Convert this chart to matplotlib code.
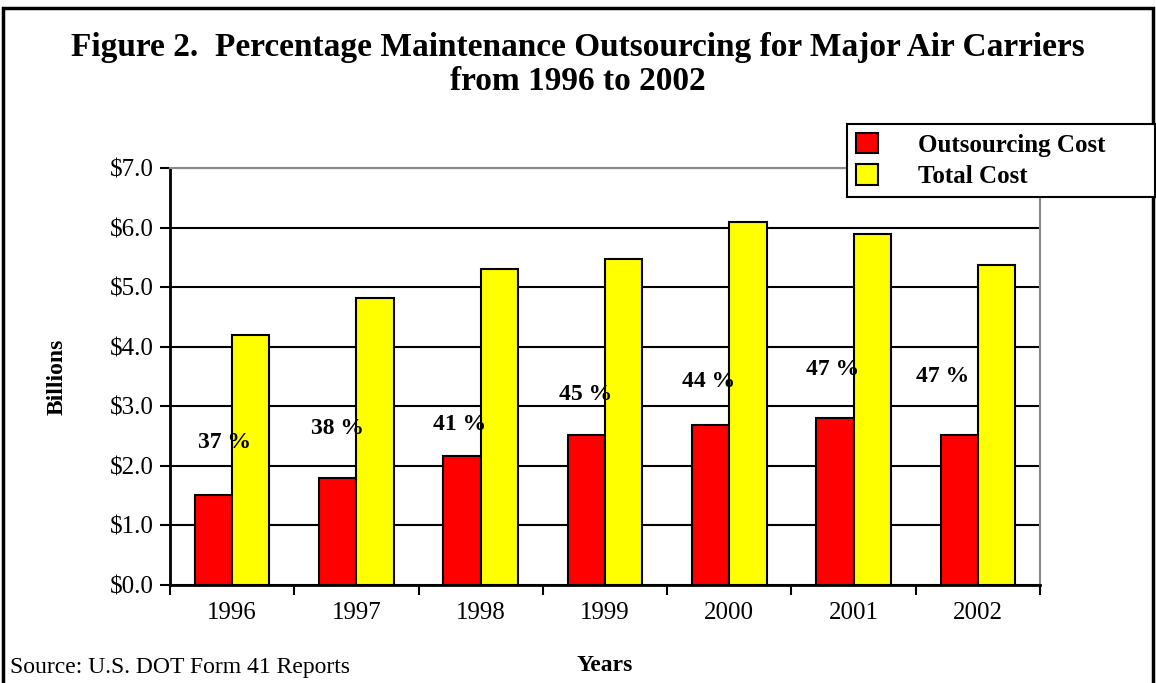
import numpy as np
import matplotlib.pyplot as plt
from matplotlib.patches import Rectangle

plt.rcParams['font.family'] = ['Liberation Serif', 'DejaVu Serif']

years = ['1996', '1997', '1998', '1999', '2000', '2001', '2002']
outsourcing = [1.51, 1.79, 2.17, 2.52, 2.69, 2.80, 2.52]
total = [4.19, 4.82, 5.30, 5.48, 6.10, 5.89, 5.37]
pct_labels = ['37 %', '38 %', '41 %', '45 %', '44 %', '47 %', '47 %']
pct_y = [2.40, 2.62, 2.70, 3.20, 3.42, 3.62, 3.50]
pct_dx = [-0.06, -0.15, -0.17, -0.16, -0.17, -0.17, -0.28]

fig = plt.figure(figsize=(11.56, 6.83), dpi=100)
ax = fig.add_axes([0.1471, 0.1435, 0.7526, 0.6105])

x = np.arange(len(years))
w = 0.3
ax.bar(x - w / 2, outsourcing, w, color='#ff0000', edgecolor='black', linewidth=1.5,
       label='Outsourcing Cost', zorder=3)
ax.bar(x + w / 2, total, w, color='#ffff00', edgecolor='black', linewidth=1.5,
       label='Total Cost', zorder=3)

for i, (lab, yy) in enumerate(zip(pct_labels, pct_y)):
    ax.text(x[i] + pct_dx[i], yy, lab, ha='center', va='center', fontsize=17,
            fontweight='bold', zorder=4)

ax.set_xlim(-0.5, len(years) - 0.5)
ax.set_ylim(0, 7)
ax.set_yticks(np.arange(0, 7.01, 1.0))
ax.set_yticklabels(['$%.1f' % v for v in np.arange(0, 7.01, 1.0)], fontsize=18)
ax.yaxis.grid(True, color='black', linewidth=1.5, zorder=0)
ax.set_axisbelow(True)

ax.set_xticks(x)
ax.set_xticklabels(years, fontsize=18)
ax.set_xticks(np.arange(-0.5, len(years)), minor=True)
ax.tick_params(axis='x', which='major', length=0, pad=12)
ax.tick_params(axis='x', which='minor', length=7, width=1.5, direction='out')
ax.tick_params(axis='y', length=7, width=1.5, direction='out', pad=5)

for s in ['left', 'bottom']:
    ax.spines[s].set_linewidth(2)
    ax.spines[s].set_color('black')
for s in ['top', 'right']:
    ax.spines[s].set_linewidth(1.5)
    ax.spines[s].set_color('#888888')

ax.set_ylabel('Billions', fontsize=17, fontweight='bold')
ax.set_xlabel('Years', fontsize=17, fontweight='bold')
ax.yaxis.set_label_coords(-0.118, 0.5)
ax.xaxis.set_label_coords(0.5, -0.168)

fig.text(0.5, 0.930, 'Figure 2.  Percentage Maintenance Outsourcing for Major Air Carriers',
         ha='center', va='center', fontsize=24, fontweight='bold')
fig.text(0.5, 0.880, 'from 1996 to 2002', ha='center', va='center', fontsize=24,
         fontweight='bold')
fig.text(0.009, 0.022, 'Source: U.S. DOT Form 41 Reports', ha='left', va='center',
         fontsize=17)

leg = fig.legend(loc='upper left', bbox_to_anchor=(0.7327, 0.7116, 0.2664, 0.1069),
                 mode='expand', fancybox=False, edgecolor='black', framealpha=1,
                 borderaxespad=0, prop={'weight': 'bold', 'size': 18},
                 handlelength=0.9, handleheight=0.9, handletextpad=1.6,
                 labelspacing=0.3, borderpad=0.35)
leg.get_frame().set_linewidth(1.5)

fig.patches.append(Rectangle((0.003, -0.01), 0.994, 0.998, transform=fig.transFigure,
                             fill=False, edgecolor='black', linewidth=2.5))

fig.savefig('out.png', dpi=100)
